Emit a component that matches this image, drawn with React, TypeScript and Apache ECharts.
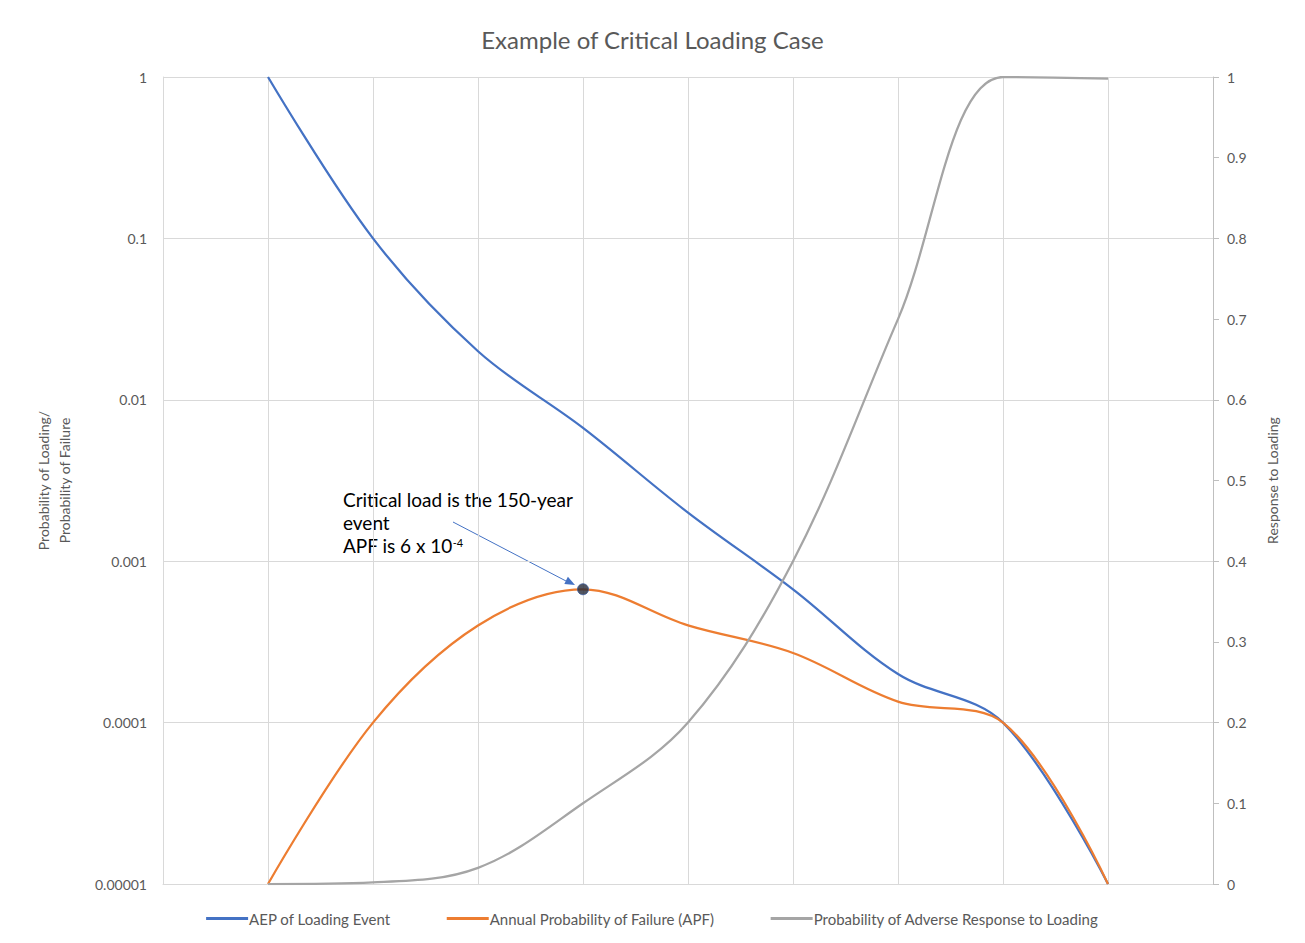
import React, { useEffect, useRef } from "react";
import * as echarts from "echarts";

const xPositions = [1, 2, 3, 4, 5, 6, 7, 8, 9];
const aepLoading = [1, 0.1, 0.02, 0.0067, 0.002, 0.00067, 0.0002, 0.0001, 0.00001];
const apfFailure = [0.00001, 0.0001, 0.0004, 0.00067, 0.0004, 0.00027, 0.000135, 0.0001, 0.00001];
const adverseResponse = [0, 0.002, 0.02, 0.1, 0.2, 0.4, 0.7, 1.0, 0.998];
const logTickLabels = ["0.00001", "0.0001", "0.001", "0.01", "0.1", "1"];
const criticalIndex = 3;

const FONT = "Lato, 'Open Sans', sans-serif";
const GREY_TEXT = "#595959";

export default function App() {
  const ref = useRef<HTMLDivElement>(null);
  useEffect(() => {
    if (!ref.current) return;
    const chart = echarts.init(ref.current, undefined, { renderer: "svg" });
    const pts = (ys: number[]) => xPositions.map((x, i) => [x, ys[i]]);
    const option: any = {
      animation: false,
      backgroundColor: "#ffffff",
      textStyle: { fontFamily: FONT },
      title: {
        text: "Example of Critical Loading Case",
        left: "center",
        top: 14,
        textStyle: { fontFamily: FONT, fontSize: 24, fontWeight: "normal", color: GREY_TEXT },
      },
      grid: { left: 155, right: 84, top: 69, bottom: 51, containLabel: false },
      legend: {
        bottom: 4,
        left: "center",
        itemWidth: 42,
        itemHeight: 3,
        itemGap: 56,
        icon: "rect",
        data: ["AEP of Loading Event", "Annual Probability of Failure (APF)", "Probability of Adverse Response to Loading"],
        textStyle: { fontFamily: FONT, fontSize: 15, color: GREY_TEXT, padding: [0, 0, 0, -4] },
      },
      xAxis: {
        type: "value",
        min: 0,
        max: 10,
        interval: 1,
        axisLabel: { show: false },
        axisTick: { show: false },
        axisLine: { show: true, lineStyle: { color: "#d9d9d9" } },
        splitLine: { show: true, lineStyle: { color: "#d9d9d9", width: 1 } },
      },
      yAxis: [
        {
          type: "log",
          logBase: 10,
          min: 0.00001,
          max: 1,
          position: "left",
          name: "Probability of Loading/\nProbability of Failure",
          nameLocation: "middle",
          nameGap: 88,
          nameTextStyle: { fontFamily: FONT, fontSize: 14, color: GREY_TEXT, lineHeight: 21 },
          axisLine: { show: true, lineStyle: { color: "#d9d9d9" } },
          axisTick: { show: false },
          axisLabel: {
            fontFamily: FONT,
            fontSize: 14,
            color: GREY_TEXT,
            margin: 16,
            formatter: (v: number) => {
              const idx = Math.round(Math.log10(v)) + 5;
              return logTickLabels[idx] ?? String(v);
            },
          },
          splitLine: { show: true, lineStyle: { color: "#d9d9d9" } },
        },
        {
          type: "value",
          min: 0,
          max: 1,
          interval: 0.1,
          position: "right",
          name: "Response to Loading",
          nameLocation: "middle",
          nameGap: 52,
          nameTextStyle: { fontFamily: FONT, fontSize: 14, color: GREY_TEXT },
          axisLine: { show: true, lineStyle: { color: "#bfbfbf" } },
          axisTick: { show: true, length: 6, lineStyle: { color: "#bfbfbf" } },
          axisLabel: {
            fontFamily: FONT,
            fontSize: 14,
            color: GREY_TEXT,
            margin: 14,
            formatter: (v: number) => (Math.round(v * 10) / 10).toString(),
          },
          splitLine: { show: false },
        },
      ],
      series: [
        {
          name: "AEP of Loading Event",
          type: "line",
          yAxisIndex: 0,
          smooth: 0.35,
          symbol: "none",
          data: pts(aepLoading),
          lineStyle: { color: "#4472c4", width: 2.25 },
          itemStyle: { color: "#4472c4" },
        },
        {
          name: "Annual Probability of Failure (APF)",
          type: "line",
          yAxisIndex: 0,
          smooth: 0.35,
          symbol: "none",
          data: pts(apfFailure),
          lineStyle: { color: "#ed7d31", width: 2.25 },
          itemStyle: { color: "#ed7d31" },
        },
        {
          name: "Probability of Adverse Response to Loading",
          type: "line",
          yAxisIndex: 1,
          smooth: 0.35,
          symbol: "none",
          data: pts(adverseResponse),
          lineStyle: { color: "#a5a5a5", width: 2.25 },
          itemStyle: { color: "#a5a5a5" },
        },
        {
          name: "Critical point",
          type: "scatter",
          yAxisIndex: 0,
          symbol: "circle",
          symbolSize: 11,
          data: [[xPositions[criticalIndex], apfFailure[criticalIndex]]],
          itemStyle: { color: "#262b3a", borderColor: "#3a5a9a", borderWidth: 1 },
          z: 5,
        },
      ],
      graphic: [
        {
          type: "text",
          x: 335,
          y: 480,
          style: {
            text: "{a|Critical load is the 150-year}\n{a|event}\n{a|APF is 6 x 10}{s|-4}",
            rich: {
              a: { fontFamily: FONT, fontSize: 19, color: "#000000", lineHeight: 23 },
              s: { fontFamily: FONT, fontSize: 11, color: "#000000", lineHeight: 23, padding: [0, 0, 9, 0], verticalAlign: "bottom" },
            },
          },
        },
        {
          type: "line",
          shape: { x1: 445, y1: 514, x2: 558, y2: 573 },
          style: { stroke: "#4472c4", lineWidth: 1 },
        },
        {
          type: "polygon",
          shape: { points: [[567, 577], [556.3, 576.0], [559.9, 568.8]] },
          style: { fill: "#4472c4" },
        },
      ],
    };
    chart.setOption(option);
    return () => chart.dispose();
  }, []);
  return <div ref={ref} style={{ width: 1289, height: 927 }} />;
}
